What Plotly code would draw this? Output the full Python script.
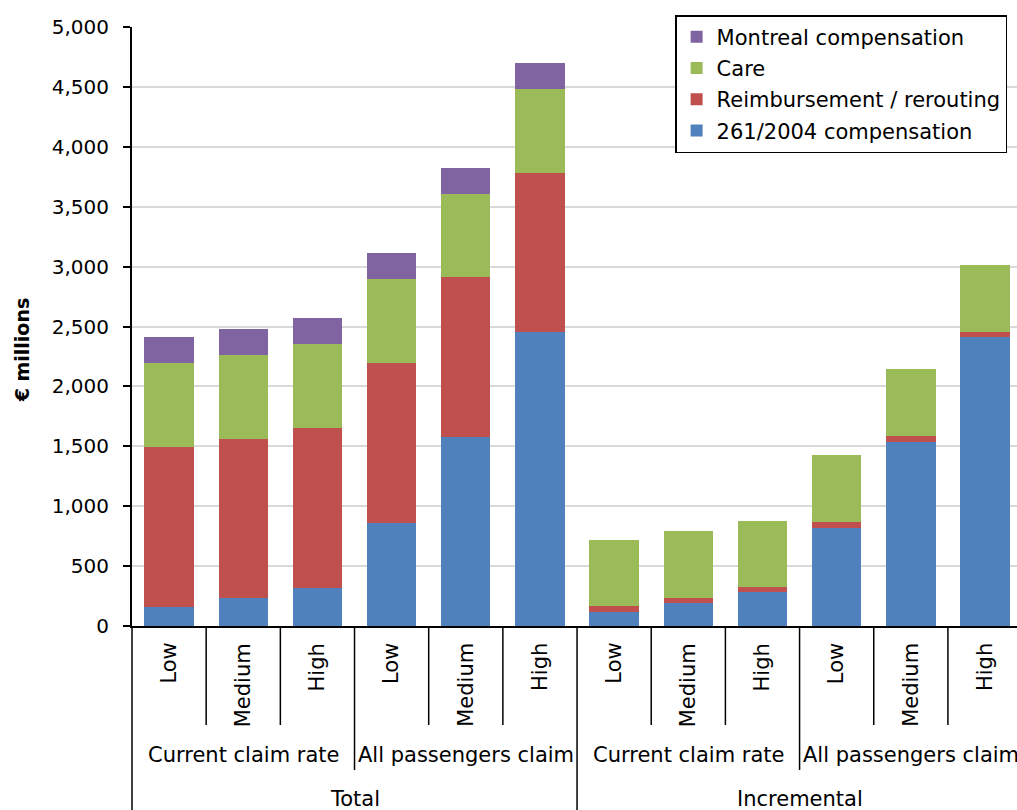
import plotly.graph_objects as go

# Three-level category axis: scenario / claim basis / measure
scenario = ["Low", "Medium", "High", "Low", "Medium", "High",
            "Low", "Medium", "High", "Low", "Medium", "High"]
claim_basis = ["Current claim rate", "All passengers claim",
               "Current claim rate", "All passengers claim"]
measure = ["Total", "Incremental"]

# € millions per cost component
comp_261 = [160, 230, 320, 860, 1580, 2450, 120, 190, 280, 820, 1540, 2410]
reimb = [1335, 1335, 1330, 1335, 1330, 1335, 47, 47, 47, 47, 47, 47]
care = [700, 700, 700, 700, 700, 700, 555, 555, 553, 557, 556, 556]
montreal = [215, 215, 220, 215, 217, 216, 0, 0, 0, 0, 0, 0]

# stacking order bottom-to-top; legend lists them top-to-bottom reversed
series = [
    ("261/2004 compensation", comp_261, "#4F81BD"),
    ("Reimbursement / rerouting", reimb, "#C0504D"),
    ("Care", care, "#9BBB59"),
    ("Montreal compensation", montreal, "#8064A2"),
]

FONT = "DejaVu Sans"
x_pos = list(range(len(scenario)))

fig = go.Figure()
for rank, (name, vals, col) in enumerate(series):
    fig.add_trace(go.Bar(
        x=x_pos, y=vals, name=name, legendgroup=name,
        legendrank=len(series) - rank,
        marker=dict(color=col, line=dict(width=0)),
    ))

W, H = 1017, 810
ML, MT, MB = 131.7, 27, 184
cat_px = 74.2
plot_w = W - ML
x_range = [-0.5, -0.5 + plot_w / cat_px]
plot_h = H - MT - MB


def py(pixel_y):
    """Convert a page pixel row to paper y."""
    return (H - MB - pixel_y) / plot_h


annotations = []
shapes = []

# level 1: rotated scenario labels
for i, lab in enumerate(scenario):
    annotations.append(dict(
        x=i, y=py(641), xref="x", yref="paper", text=lab, textangle=-90,
        showarrow=False, xanchor="center", yanchor="top",
        font=dict(family=FONT, size=21, color="black"),
    ))

# level 2: claim basis labels, one per group of three
n2 = len(scenario) // len(claim_basis)
for g, lab in enumerate(claim_basis):
    annotations.append(dict(
        x=g * n2 + (n2 - 1) / 2, y=py(755), xref="x", yref="paper", text=lab,
        showarrow=False, xanchor="center", yanchor="middle",
        font=dict(family=FONT, size=21, color="black"),
    ))

# level 3: measure labels, one per group of six
n3 = len(scenario) // len(measure)
for g, lab in enumerate(measure):
    annotations.append(dict(
        x=g * n3 + (n3 - 1) / 2, y=py(799), xref="x", yref="paper", text=lab,
        showarrow=False, xanchor="center", yanchor="middle",
        font=dict(family=FONT, size=21, color="black"),
    ))

# y-axis title
annotations.append(dict(
    x=(22 - ML) / plot_w, y=py(350), xref="paper", yref="paper",
    text="<b>€ millions</b>", textangle=-90, showarrow=False,
    xanchor="center", yanchor="middle",
    font=dict(family=FONT, size=19, color="black"),
))

# separators between categories, longer at group boundaries
line_style = dict(color="black", width=1.5)
for k in range(1, len(scenario)):
    if k % n3 == 0:
        bottom = H
    elif k % n2 == 0:
        bottom = 770
    else:
        bottom = 725
    shapes.append(dict(type="line", xref="x", yref="paper",
                       x0=k - 0.5, x1=k - 0.5, y0=py(H - MB), y1=py(bottom),
                       line=line_style))
shapes.append(dict(type="line", xref="paper", yref="paper",
                   x0=0, x1=0, y0=0, y1=py(H), line=line_style))

fig.update_layout(
    width=W, height=H,
    margin=dict(l=ML, r=0, t=MT, b=MB, pad=0),
    barmode="stack", bargap=0.334,
    plot_bgcolor="white", paper_bgcolor="white",
    font=dict(family=FONT, size=20, color="black"),
    xaxis=dict(range=x_range, showticklabels=False, showgrid=False,
               zeroline=False, showline=True, linecolor="black", linewidth=2,
               ticks=""),
    yaxis=dict(range=[0, 5000], dtick=500, tickformat=",",
               showgrid=True, gridcolor="#D9D9D9", gridwidth=1.5,
               zeroline=False, showline=True, linecolor="black", linewidth=2,
               ticks="outside", ticklen=7, tickcolor="black", tickwidth=1.5,
               ticklabelstandoff=10,
               tickfont=dict(family=FONT, size=20, color="black")),
    legend=dict(x=(675 - ML) / plot_w, y=py(15), xanchor="left", yanchor="top",
                traceorder="grouped", tracegroupgap=1,
                bgcolor="white", bordercolor="black", borderwidth=1.5,
                font=dict(family=FONT, size=21, color="black")),
    showlegend=True,
    annotations=annotations,
    shapes=shapes,
)

fig.write_html("out.html")
